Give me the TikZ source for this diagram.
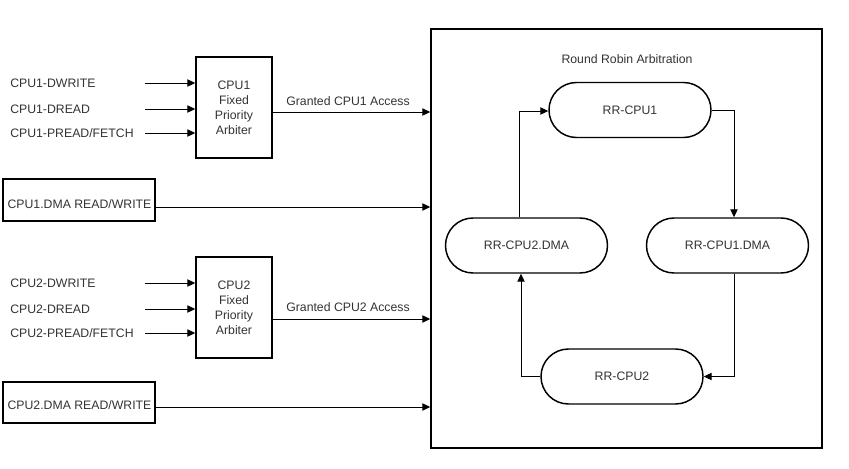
\documentclass[tikz,border=0pt]{standalone}
\usepackage{fontspec}
\setmainfont{Liberation Sans}
\usetikzlibrary{arrows.meta}
\definecolor{txt}{HTML}{333333}
\begin{document}
\begin{tikzpicture}[x=0.75pt,y=-0.75pt,
  font=\fontsize{9.2}{11}\selectfont,
  every node/.style={text=txt},
  sqbox/.style={draw=black,line width=1.1pt,inner sep=0pt,align=center},
  rrbox/.style={draw=black,line width=1.1pt,rounded corners=20.6pt,minimum width=121.5pt,minimum height=41.25pt,inner sep=0pt},
  lbl/.style={anchor=west,inner sep=0pt},
  conn/.style={draw=black,line width=0.75pt,-{Triangle[length=6pt,width=5.5pt]}},
  plain/.style={draw=black,line width=0.75pt}]
\useasboundingbox (0,0) rectangle (849,468);
% outer box
\node[draw=black,line width=1.1pt,minimum width=293.25pt,minimum height=314.25pt,inner sep=0pt] (rr) at (626.5,238.5) {};
\node (title) at (627,59) {Round Robin Arbitration};
% RR nodes
\node[rrbox] (c1) at (630,110) {RR-CPU1};
\node[rrbox] (d2) at (526.5,245.5) {RR-CPU2.DMA};
\node[rrbox] (d1) at (727.5,245.5) {RR-CPU1.DMA};
\node[rrbox] (c2) at (622,376.5) {RR-CPU2};
\draw[conn] (c1.east) -| (d1.north -| 734,0);
\draw[conn] (d1.south -| 734,0) |- (c2.east);
\draw[conn] (c2.west) -| (d2.south -| 521,0);
\draw[conn] (d2.north -| 519,0) |- (c1.west |- 0,111);
% arbiters
\node[sqbox,minimum width=57pt,minimum height=75.75pt,font=\fontsize{9.2}{11.3}\selectfont] (a1) at (234,107.5) {CPU1\\Fixed\\Priority\\Arbiter};
\node[sqbox,minimum width=57pt,minimum height=75.75pt,font=\fontsize{9.2}{11.3}\selectfont] (a2) at (234,307.5) {CPU2\\Fixed\\Priority\\Arbiter};
% inputs CPU1
\node[lbl] (i1) at (10,83) {CPU1-DWRITE};
\node[lbl] (i2) at (10,109) {CPU1-DREAD};
\node[lbl] (i3) at (10,133) {CPU1-PREAD/FETCH};
\coordinate (s1) at (145,83);
\coordinate (s2) at (145,109);
\coordinate (s3) at (145,133);
\draw[conn] (s1) -- (s1 -| a1.west);
\draw[conn] (s2) -- (s2 -| a1.west);
\draw[conn] (s3) -- (s3 -| a1.west);
% inputs CPU2
\node[lbl] (j1) at (10,283) {CPU2-DWRITE};
\node[lbl] (j2) at (10,309) {CPU2-DREAD};
\node[lbl] (j3) at (10,333) {CPU2-PREAD/FETCH};
\coordinate (u1) at (145,283);
\coordinate (u2) at (145,309);
\coordinate (u3) at (145,333);
\draw[conn] (u1) -- (u1 -| a2.west);
\draw[conn] (u2) -- (u2 -| a2.west);
\draw[conn] (u3) -- (u3 -| a2.west);
% granted
\draw[conn] (a1.east |- 0,112) -- (rr.west |- 0,112);
\node (g1) at (348,101) {Granted CPU1 Access};
\draw[conn] (a2.east |- 0,319) -- (rr.west |- 0,319);
\node (g2) at (348,307) {Granted CPU2 Access};
% DMA boxes
\node[sqbox,minimum width=114pt,minimum height=31.5pt] (m1) at (79,200) {};
\node (m1t) at (79.5,204) {CPU1.DMA READ/WRITE};
\node[sqbox,minimum width=114pt,minimum height=31pt] (m2) at (79,402.5) {};
\node (m2t) at (79.5,405) {CPU2.DMA READ/WRITE};
\draw[conn] (m1.east |- 0,207) -- (rr.west |- 0,207);
\draw[conn] (m2.east |- 0,407) -- (rr.west |- 0,407);
\end{tikzpicture}
\end{document}
